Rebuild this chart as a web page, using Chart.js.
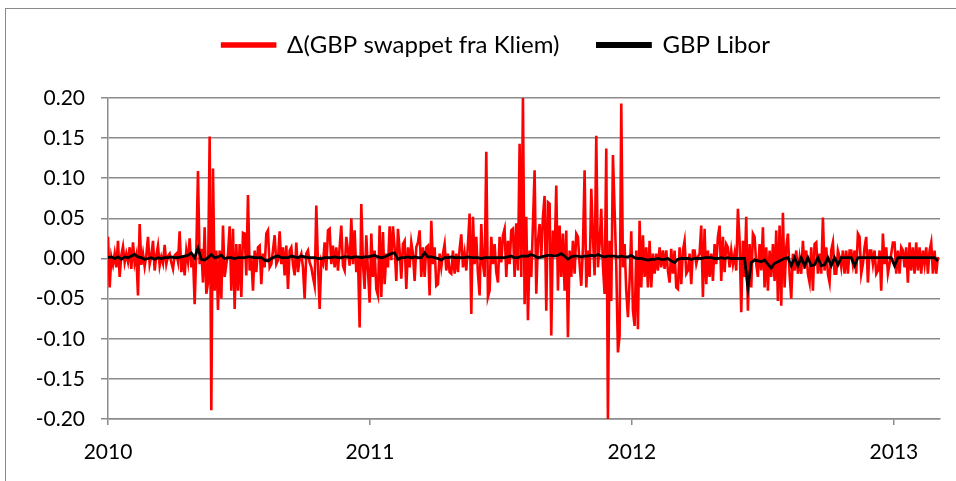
<!DOCTYPE html>
<html><head><meta charset="utf-8">
<script src="https://cdn.jsdelivr.net/npm/chart.js@4.4.1/dist/chart.umd.min.js"></script>
<style>
html,body{margin:0;padding:0;background:#fff;width:956px;height:481px;overflow:hidden;}
#frame{position:absolute;left:5px;top:8px;width:1000px;height:600px;border-left:1px solid #8a8a8a;border-top:1px solid #8a8a8a;}
#wrap{position:absolute;left:0;top:0;width:956px;height:481px;}
</style></head><body>
<div id="frame"></div>
<div id="wrap"><canvas id="c" width="956" height="481"></canvas></div>
<script>
// ---- data ----
const seriesNames = ['\u0394(GBP swappet fra Kliem)', 'GBP Libor'];
const startYear = 2010;
const samplesPerYear = 157.2;        // sampling of the series (approx. every 2.3 days)
const endYear = 2013.176;
const yearTicks = [2010, 2011, 2012, 2013];
const yearLabels = ['2010', '2011', '2012', '2013'];
const yTickValues = [-0.20, -0.15, -0.10, -0.05, 0.00, 0.05, 0.10, 0.15, 0.20];

// Δ(GBP swappet fra Kliem), one value per sample
const swapDelta = [
 // 2010 H1
 0.027,-0.036,0.002,-0.008,0.006,-0.011,0.022,-0.023,0.004,0.015,
 -0.005,0.006,-0.004,0.014,-0.013,0.020,-0.006,0.004,-0.046,0.043,
 -0.008,0.006,-0.010,0.004,0.027,-0.007,0.003,0.022,-0.015,0.004,
 0.016,-0.009,0.002,-0.006,0.017,-0.007,0.003,0.006,-0.005,-0.013,
 0.004,0.006,-0.004,0.034,-0.017,0.003,-0.021,0.010,-0.004,0.025,
 -0.011,0.005,-0.057,0.010,0.109,-0.007,0.012,-0.030,0.039,-0.044,
 -0.030,0.152,-0.189,0.112,-0.040,0.010,-0.064,0.010,-0.050,0.041,
 -0.023,-0.007,0.005,0.040,-0.040,0.037,-0.063,0.018,-0.040,0.018,
 -0.048,0.032,
 // 2010 H2
 0.031,-0.021,0.079,-0.015,0.002,-0.040,0.010,-0.017,0.014,0.016,
 -0.032,0.006,-0.011,0.031,0.035,-0.011,-0.007,0.010,0.029,-0.007,
 -0.002,0.034,-0.007,0.014,-0.021,0.016,-0.038,0.010,0.014,-0.007,
 -0.021,0.020,-0.017,0.000,0.006,-0.011,-0.050,0.006,0.010,-0.005,
 -0.011,-0.023,-0.034,0.066,-0.007,-0.063,-0.002,-0.007,0.020,-0.015,
 0.035,0.037,-0.007,0.016,-0.011,0.014,-0.015,0.014,0.041,-0.009,
 -0.015,0.027,0.010,-0.009,0.050,-0.007,0.035,-0.017,0.002,-0.086,
 0.068,-0.007,-0.038,0.029,-0.015,-0.055,0.031,-0.023,0.010,-0.038,
 -0.046,0.041,-0.048,0.033,
 // 2011 H1
 -0.032,0.006,-0.011,0.040,-0.002,0.040,0.014,-0.028,0.037,0.010,
 -0.025,0.018,0.022,-0.038,0.014,-0.011,0.020,0.006,-0.028,0.014,
 0.020,0.035,-0.023,0.014,-0.023,0.014,0.016,-0.046,0.047,-0.007,
 0.014,-0.034,-0.032,0.006,-0.011,0.006,0.018,-0.015,0.006,-0.017,
 -0.019,0.010,-0.019,0.006,-0.017,0.012,0.030,-0.011,0.006,-0.015,
 0.018,0.056,-0.069,0.052,-0.007,0.027,-0.019,-0.046,0.043,-0.007,
 -0.023,0.133,-0.048,-0.040,0.027,-0.007,0.018,-0.017,-0.030,0.027,
 -0.005,0.029,0.037,-0.023,0.022,-0.007,0.035,0.037,-0.023,0.044,
 -0.015,0.143,-0.023,0.200,
 // 2011 H2
 -0.057,0.052,-0.077,0.010,-0.023,0.043,0.110,-0.044,0.022,0.043,
 0.002,0.052,0.078,-0.065,0.070,0.068,-0.096,0.035,0.002,0.091,
 -0.040,0.041,-0.023,0.031,-0.040,0.035,-0.098,0.010,-0.023,0.022,
 -0.019,0.031,0.027,-0.007,-0.034,0.014,0.110,-0.036,0.010,-0.023,
 0.087,0.027,-0.021,0.153,-0.011,0.018,0.062,-0.009,-0.044,0.137,
 -0.200,0.022,-0.053,0.129,0.060,-0.009,-0.117,-0.096,0.193,-0.011,
 0.018,-0.040,-0.073,-0.028,0.034,-0.065,-0.084,0.010,-0.088,0.047,
 -0.036,0.029,-0.023,0.014,-0.036,0.022,-0.036,0.006,-0.019,0.006,
 -0.015,0.014,-0.011,0.010,
 // 2012 H1
 -0.013,0.010,-0.015,-0.030,0.012,-0.019,0.010,-0.036,-0.038,0.014,
 -0.032,0.010,0.022,-0.019,-0.015,0.006,-0.032,0.010,0.010,-0.007,
 0.002,0.006,0.041,-0.048,0.037,-0.032,0.010,-0.023,0.006,-0.028,
 0.018,-0.007,0.027,0.041,-0.028,0.027,-0.017,0.018,0.014,-0.011,
 0.010,-0.007,0.006,-0.015,0.062,0.022,-0.067,0.022,-0.023,0.052,
 -0.065,0.018,-0.036,0.031,0.027,-0.007,-0.023,0.018,-0.015,0.039,
 -0.036,0.014,-0.040,0.010,-0.023,0.018,-0.028,0.035,-0.053,0.041,
 -0.059,0.057,-0.036,0.014,0.031,-0.019,-0.050,0.006,-0.015,0.010,
 -0.019,0.000,-0.019,0.022,
 // 2012 H2 - 2013
 -0.013,0.010,-0.019,-0.030,0.014,-0.040,0.018,0.020,-0.019,0.006,
 -0.019,0.051,-0.015,0.014,-0.019,-0.030,0.010,0.020,-0.019,-0.019,
 0.010,0.002,-0.011,0.010,-0.019,0.010,-0.019,0.010,0.010,-0.007,
 0.010,-0.019,0.031,0.027,-0.019,-0.007,0.014,0.027,-0.030,0.010,
 0.010,-0.007,0.010,-0.019,-0.015,0.010,-0.040,0.031,-0.007,0.014,
 -0.019,-0.007,0.006,0.020,0.020,-0.019,0.010,-0.019,0.014,0.010,
 -0.011,0.014,-0.030,0.020,-0.015,0.014,-0.019,0.020,-0.015,0.014,
 -0.019,0.010,-0.007,0.014,-0.019,0.010,0.020,-0.019,0.010,-0.019,
 0.002
];

// GBP Libor change, one value per two samples
const liborDelta = [
 0.001,0.002,0.000,0.002,-0.001,0.002,0.001,0.003,0.005,0.002,
 0.001,-0.001,0.000,0.001,-0.001,0.001,0.000,0.001,0.001,0.002,
 0.001,0.001,0.002,0.003,0.004,0.007,0.001,0.013,-0.001,-0.002,
 0.001,0.005,0.001,0.002,0.004,0.000,0.001,0.001,0.000,0.001,
 0.001,
 0.001,0.002,0.002,0.001,0.001,0.001,-0.002,-0.003,0.000,0.002,
 0.003,0.001,0.001,0.001,0.003,0.002,0.001,0.003,0.002,0.001,
 0.001,0.001,0.000,0.000,0.001,0.001,0.001,0.002,0.001,0.001,
 0.002,0.002,0.001,0.002,0.002,0.001,0.002,0.002,0.003,0.004,
 0.002,0.001,
 0.002,0.004,0.006,0.007,-0.001,0.001,0.001,0.002,0.001,0.002,
 0.001,0.001,0.007,0.002,0.002,0.001,0.000,-0.002,0.001,0.001,
 0.002,0.001,0.001,0.001,0.001,0.002,0.001,0.001,0.001,0.000,
 0.001,0.001,0.001,0.001,0.001,0.001,0.001,0.002,0.003,0.001,
 0.001,0.003,
 0.003,0.003,0.005,0.003,0.001,0.002,0.003,0.004,0.004,0.003,
 0.004,0.006,0.003,-0.001,0.002,0.003,0.003,0.002,0.003,0.003,
 0.004,0.003,0.005,0.003,0.002,0.003,0.003,0.003,0.002,0.003,
 0.002,0.002,0.004,0.001,0.000,0.000,-0.001,-0.002,-0.001,-0.001,
 0.000,-0.001,
 -0.001,0.000,-0.003,-0.005,-0.001,0.000,0.000,0.000,-0.001,0.000,
 0.000,0.000,0.001,0.001,0.001,0.000,0.000,0.001,0.000,0.001,
 0.000,0.000,0.000,0.000,0.000,-0.037,-0.005,-0.002,-0.003,-0.004,
 -0.002,-0.007,-0.012,-0.006,-0.004,-0.002,0.000,0.001,-0.009,0.001,
 -0.009,0.001,
 -0.009,0.001,-0.009,-0.008,0.001,-0.009,-0.008,0.001,-0.009,0.001,
 -0.008,0.001,0.001,0.001,0.001,-0.009,0.001,0.001,0.001,0.001,
 0.001,0.001,0.001,0.001,0.001,0.001,0.001,-0.009,0.001,0.001,
 0.001,0.001,0.001,0.001,0.001,0.001,0.001,0.001,0.001,0.001,
 -0.003
];

// ---- build points ----
const swapPts = swapDelta.map((v, i) => ({x: startYear + i / samplesPerYear, y: v}));
const liborPts = liborDelta.map((v, i) => ({x: startYear + 2 * i / samplesPerYear, y: v}));

const FONT = {family: 'Lato, "Open Sans", "DejaVu Sans", sans-serif', size: 21};
const LEGEND_FONT = {family: 'Lato, "Open Sans", "DejaVu Sans", sans-serif', size: 24};
const GRID = '#8c8c8c';
const legendExtra = 26;
const legendShiftY = 5;
const legendShiftX = 52;

const legendSpacer = {
  id: 'legendSpacer',
  beforeLayout(chart) {
    const lg = chart.legend;
    if (lg && !lg._patched) {
      const fit = lg.fit;
      lg.fit = function () { fit.call(this); this.height += legendExtra; };
      lg._patched = true;
    }
  },
  afterLayout(chart) {
    const lg = chart.legend;
    if (lg) { lg.top -= legendShiftY; lg.bottom -= legendShiftY; lg.left += legendShiftX; }
  }
};

function draw() {
  new Chart(document.getElementById('c'), {
    type: 'line',
    data: {
      datasets: [
        {label: seriesNames[0], data: swapPts, borderColor: '#ff0000', backgroundColor: '#ff0000',
         borderWidth: 2.6, pointRadius: 0, tension: 0, order: 1},
        {label: seriesNames[1], data: liborPts, borderColor: '#000000', backgroundColor: '#000000',
         borderWidth: 2.8, pointRadius: 0, tension: 0, order: 0}
      ]
    },
    options: {
      responsive: false, animation: false, devicePixelRatio: 1,
      layout: {padding: {left: 0, right: 16, top: 0, bottom: 0}},
      plugins: {
        legend: {position: 'top', labels: {boxWidth: 53, boxHeight: 3, padding: 38, color: '#000', font: LEGEND_FONT,
                 sort: (a, b) => a.datasetIndex - b.datasetIndex}},
        tooltip: {enabled: false}
      },
      scales: {
        x: {
          type: 'linear', min: startYear, max: endYear,
          afterBuildTicks: s => { s.ticks = yearTicks.map(v => ({value: v})); },
          afterFit: s => { s.height = 62; },
          ticks: {callback: v => yearLabels[yearTicks.indexOf(v)], color: '#000', font: FONT,
                  padding: 15, maxRotation: 0, autoSkip: false},
          grid: {drawOnChartArea: false, drawTicks: true, tickLength: 6, color: GRID, lineWidth: 1.5},
          border: {display: true, color: GRID, width: 1.5}
        },
        y: {
          min: -0.2, max: 0.2,
          afterBuildTicks: s => { s.ticks = yTickValues.map(v => ({value: v})); },
          afterFit: s => { s.width = 108; },
          ticks: {callback: v => v.toFixed(2), color: '#000', font: FONT, padding: 16},
          grid: {color: GRID, lineWidth: 1.5, drawTicks: true, tickLength: 7},
          border: {display: true, color: GRID, width: 1.5}
        }
      }
    },
    plugins: [legendSpacer]
  });
}
if (document.fonts && document.fonts.load) {
  Promise.all([document.fonts.load('21px Lato'), document.fonts.load('24px Lato')]).then(draw, draw);
} else { draw(); }
</script>
</body></html>
